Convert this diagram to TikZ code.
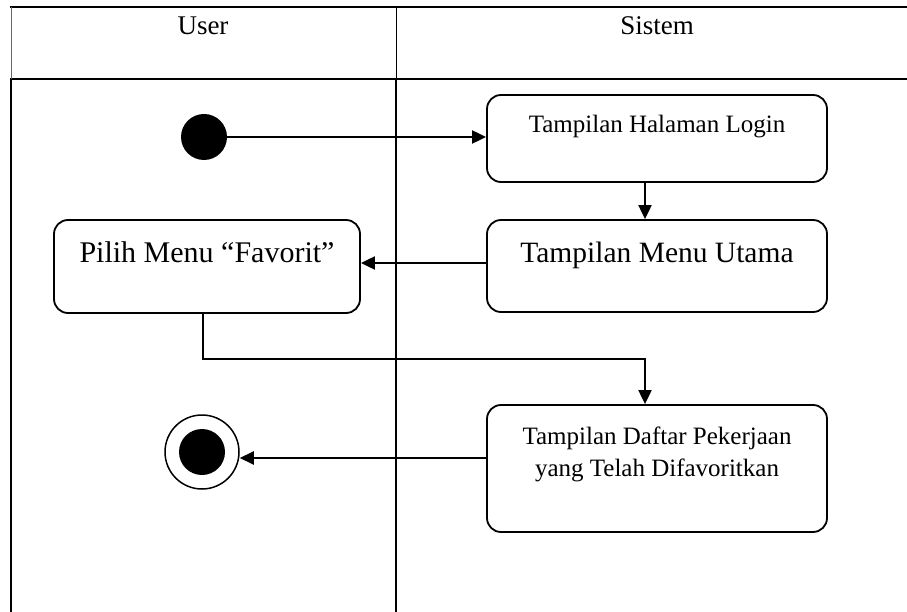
\documentclass[tikz,border=0pt]{standalone}
\usepackage{fontspec}
\setmainfont{Liberation Serif}
\usetikzlibrary{arrows.meta}
\begin{document}
\begin{tikzpicture}[x=1pt,y=-1pt,
  tbl/.style={line width=2.2pt,black},
  thinl/.style={line width=1pt},
  actbox/.style={draw,line width=1.8pt,rounded corners=14pt,inner sep=0pt},
  arr/.style={line width=2pt,-{Triangle[length=14pt,width=13pt]}},
  txt/.style={inner sep=0pt,anchor=base,align=center},
]
\useasboundingbox (0,0) rectangle (907,612);
% swimlane table
\draw[tbl] (10,7) -- (907,7);
\draw[tbl] (10,79) -- (907,79);
\draw[thinl,black!60] (11,7) -- (11,79);
\draw[tbl] (11,79) -- (11,612);
\draw[thinl] (396,7) -- (396,79);
\draw[tbl] (396,79) -- (396,612);
\node[txt,font=\fontsize{27}{32}\selectfont] (huser) at (203,35) {User};
\node[txt,font=\fontsize{27}{32}\selectfont] (hsis) at (657,35) {Sistem};
% nodes
\node[circle,fill=black,minimum size=46pt,inner sep=0pt] (start) at (204,137) {};
\node[actbox,minimum width=340pt,minimum height=87pt] (login) at (657,138.5) {};
\node[txt,font=\fontsize{25}{32}\selectfont] (tlogin) at (657,133) {Tampilan Halaman Login};
\node[actbox,minimum width=340pt,minimum height=92pt] (menu) at (657,266) {};
\node[txt,font=\fontsize{29.5}{34}\selectfont] (tmenu) at (657,262) {Tampilan Menu Utama};
\node[actbox,minimum width=306pt,minimum height=93pt] (pilih) at (207,266.5) {};
\node[txt,font=\fontsize{30}{34}\selectfont] (tpilih) at (207,263) {Pilih Menu “Favorit”};
\node[actbox,minimum width=340pt,minimum height=127pt] (daftar) at (657,468.5) {};
\node[txt,font=\fontsize{25}{32}\selectfont] (tdaftar1) at (657,444) {Tampilan Daftar Pekerjaan};
\node[txt,font=\fontsize{25}{32}\selectfont] (tdaftar2) at (657,476) {yang Telah Difavoritkan};
\node[circle,draw,line width=1.5pt,minimum size=74pt,inner sep=0pt] (end) at (202,452) {};
\node[circle,fill=black,minimum size=46pt,inner sep=0pt] (endin) at (202,452) {};
\coordinate (bend) at (645,359);
% connectors
\draw[arr] (start.east) -- (login.west |- start.east);
\draw[arr] ([xshift=-12pt]login.south) -- ([xshift=-12pt]menu.north);
\draw[arr] ([yshift=3pt]menu.west) -- ([yshift=3pt]menu.west -| pilih.east);
\draw[arr] ([xshift=-4pt]pilih.south) |- (bend) -- (bend |- daftar.north);
\draw[arr] ([yshift=10.5pt]daftar.west) -- ([yshift=10.5pt]daftar.west -| end.east);
\end{tikzpicture}
\end{document}
